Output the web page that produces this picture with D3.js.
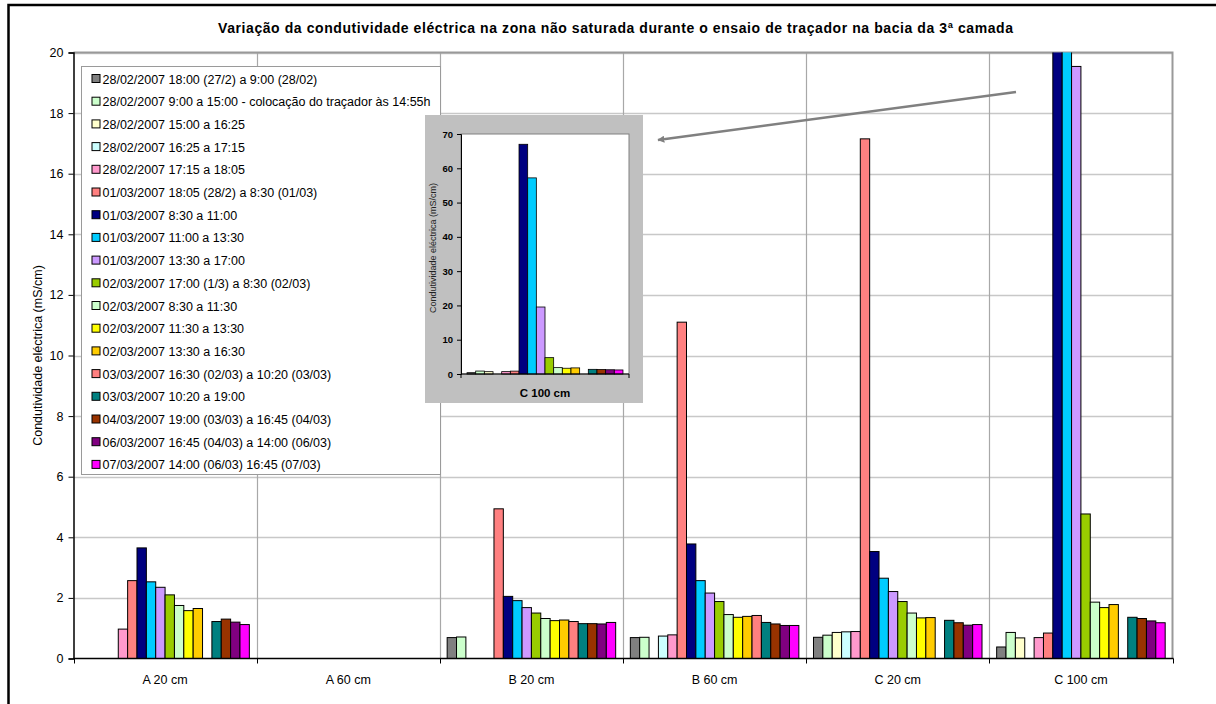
<!DOCTYPE html>
<html>
<head>
<meta charset="utf-8">
<script src="https://cdn.jsdelivr.net/npm/d3@7"></script>
<style>
  html, body { margin: 0; padding: 0; background: #fff; }
  svg { display: block; font-family: "Liberation Sans", Arial, sans-serif; }
</style>
</head>
<body>
<svg id="chart" width="1216" height="704"></svg>
<script>
// Sampling sites (depth per plot)
const categories = ["A 20 cm", "A 60 cm", "B 20 cm", "B 60 cm", "C 20 cm", "C 100 cm"];

// Sampling periods (one series each)
const seriesNames = [
  "28/02/2007 18:00 (27/2) a 9:00 (28/02)",
  "28/02/2007 9:00 a 15:00 - colocação do traçador às 14:55h",
  "28/02/2007 15:00 a 16:25",
  "28/02/2007 16:25 a 17:15",
  "28/02/2007 17:15 a 18:05",
  "01/03/2007 18:05 (28/2) a 8:30 (01/03)",
  "01/03/2007 8:30 a 11:00",
  "01/03/2007 11:00 a 13:30",
  "01/03/2007 13:30 a 17:00",
  "02/03/2007 17:00 (1/3) a 8:30 (02/03)",
  "02/03/2007 8:30 a 11:30",
  "02/03/2007 11:30 a 13:30",
  "02/03/2007 13:30 a 16:30",
  "03/03/2007 16:30 (02/03) a 10:20 (03/03)",
  "03/03/2007 10:20 a 19:00",
  "04/03/2007 19:00 (03/03) a 16:45 (04/03)",
  "06/03/2007 16:45 (04/03) a 14:00 (06/03)",
  "07/03/2007 14:00 (06/03) 16:45 (07/03)"
];

const seriesColors = [
  "#808080", "#CCFFCC", "#FFFFCC", "#CCFFFF", "#FF99CC", "#FF8080",
  "#000080", "#00CCFF", "#CC99FF", "#99CC00", "#CCFFCC", "#FFFF00",
  "#FFCC00", "#FF8080", "#008080", "#993300", "#800080", "#FF00FF"
];

// Electrical conductivity (mS/cm), one value per period; null = no sample
const valuesA20  = [null, null, null, null, 0.97, 2.57, 3.65, 2.53, 2.35, 2.10, 1.75, 1.58, 1.65, null, 1.22, 1.30, 1.20, 1.12];
const valuesA60  = [null, null, null, null, null, null, null, null, null, null, null, null, null, null, null, null, null, null];
const valuesB20  = [0.69, 0.71, null, null, null, 4.94, 2.05, 1.91, 1.68, 1.50, 1.32, 1.25, 1.27, 1.22, 1.15, 1.15, 1.14, 1.19];
const valuesB60  = [0.69, 0.70, null, 0.74, 0.78, 11.1, 3.78, 2.57, 2.16, 1.88, 1.45, 1.36, 1.39, 1.42, 1.19, 1.14, 1.09, 1.09];
const valuesC20  = [0.70, 0.77, 0.86, 0.88, 0.89, 17.15, 3.53, 2.65, 2.21, 1.88, 1.50, 1.34, 1.35, null, 1.26, 1.18, 1.10, 1.12];
const valuesC100 = [0.38, 0.86, 0.68, null, 0.69, 0.84, 67.0, 57.2, 19.54, 4.77, 1.86, 1.68, 1.78, null, 1.36, 1.32, 1.24, 1.18];

const seriesValues = [valuesA20, valuesA60, valuesB20, valuesB60, valuesC20, valuesC100];

const yTicksMain = [0, 2, 4, 6, 8, 10, 12, 14, 16, 18, 20];
const yTicksInset = [0, 10, 20, 30, 40, 50, 60, 70];

const titleText = "Variação da condutividade eléctrica na zona não saturada durante o ensaio de traçador na bacia da 3ª camada";
const yAxisTitle = "Condutividade eléctrica (mS/cm)";

const svg = d3.select("#chart");

// Outer chart frame
svg.append("rect").attr("x", 8.5).attr("y", 5).attr("width", 1230).attr("height", 720)
  .attr("fill", "#fff").attr("stroke", "#000").attr("stroke-width", 2.5);

// ---------- main plot ----------
const plot = { left: 73.5, right: 1172.5, top: 52.5, bottom: 658.5 };

const x0 = d3.scaleBand().domain(categories)
  .range([plot.left, plot.right]).paddingInner(0.08).paddingOuter(0.04);
const x1 = d3.scaleBand().domain(d3.range(seriesNames.length))
  .range([0, x0.bandwidth()]);
const y = d3.scaleLinear().domain([0, 20]).range([plot.bottom, plot.top]);

// horizontal gridlines
svg.append("g").selectAll("line").data(yTicksMain.slice(1))
  .join("line")
  .attr("x1", plot.left).attr("x2", plot.right)
  .attr("y1", d => Math.round(y(d)) + 0.5).attr("y2", d => Math.round(y(d)) + 0.5)
  .attr("stroke", "#c8c8c8").attr("stroke-width", 1.5);

// vertical separators between sites
const step = x0.step();
const boundaries = categories.map((c, i) => plot.left + step * (i + 1));
svg.append("g").selectAll("line").data(boundaries.slice(0, -1))
  .join("line")
  .attr("x1", d => Math.round(d) + 0.5).attr("x2", d => Math.round(d) + 0.5)
  .attr("y1", plot.top).attr("y2", plot.bottom)
  .attr("stroke", "#a8a8a8").attr("stroke-width", 1.2);

// plot area border (top + right)
svg.append("path")
  .attr("d", `M${plot.left},${plot.top}H${plot.right}V${plot.bottom}`)
  .attr("fill", "none").attr("stroke", "#999").attr("stroke-width", 2);

// clip for bars exceeding the axis maximum
svg.append("clipPath").attr("id", "plotClip")
  .append("rect").attr("x", plot.left).attr("y", plot.top)
  .attr("width", plot.right - plot.left).attr("height", plot.bottom - plot.top);

const barData = [];
categories.forEach((c, ci) => {
  seriesValues[ci].forEach((v, si) => {
    if (v !== null) barData.push({ cat: c, s: si, v });
  });
});

svg.append("g").attr("clip-path", "url(#plotClip)")
  .selectAll("rect").data(barData).join("rect")
  .attr("x", d => x0(d.cat) + x1(d.s))
  .attr("y", d => y(d.v))
  .attr("width", x1.bandwidth())
  .attr("height", d => y(0) - y(d.v))
  .attr("fill", d => seriesColors[d.s])
  .attr("stroke", "#000").attr("stroke-width", 1);

// y axis
const yAxis = svg.append("g").attr("transform", `translate(${plot.left},0)`)
  .call(d3.axisLeft(y).tickValues(yTicksMain).tickSize(5).tickPadding(5));
yAxis.select(".domain").attr("stroke", "#000").attr("stroke-width", 1.5);
yAxis.selectAll(".tick line").attr("stroke", "#000");
yAxis.selectAll("text").attr("font-size", 12.5).attr("fill", "#000")
  .style("font-family", "'Liberation Sans', Arial, sans-serif");

// x axis
svg.append("line").attr("x1", plot.left).attr("x2", plot.right + 1)
  .attr("y1", plot.bottom).attr("y2", plot.bottom)
  .attr("stroke", "#000").attr("stroke-width", 1.5);
svg.append("g").selectAll("line").data([plot.left, ...boundaries])
  .join("line")
  .attr("x1", d => Math.round(d) + 0.5).attr("x2", d => Math.round(d) + 0.5)
  .attr("y1", plot.bottom).attr("y2", plot.bottom + 5)
  .attr("stroke", "#000");
svg.append("g").selectAll("text").data(categories).join("text")
  .attr("x", d => plot.left + step * (categories.indexOf(d) + 0.5))
  .attr("y", 684)
  .attr("text-anchor", "middle").attr("font-size", 12.5)
  .text(d => d);

// titles
svg.append("text").attr("x", 615.5).attr("y", 33)
  .attr("text-anchor", "middle").attr("font-size", 14).attr("font-weight", "bold")
  .attr("textLength", 795).attr("lengthAdjust", "spacing")
  .text(titleText);
svg.append("text")
  .attr("transform", `translate(42,${(plot.top + plot.bottom) / 2}) rotate(-90)`)
  .attr("text-anchor", "middle").attr("font-size", 12.5)
  .text(yAxisTitle);

// ---------- legend ----------
const legend = svg.append("g");
legend.append("rect").attr("x", 81.5).attr("y", 66.5).attr("width", 359).attr("height", 408)
  .attr("fill", "#fff").attr("stroke", "#9a9a9a").attr("stroke-width", 1);
const legendRows = legend.selectAll("g.row").data(seriesNames).join("g")
  .attr("transform", (d, i) => `translate(0,${79 + i * 22.7})`);
legendRows.append("rect")
  .attr("x", 92).attr("y", -4.5).attr("width", 8).attr("height", 8)
  .attr("fill", (d, i) => seriesColors[i]).attr("stroke", "#000").attr("stroke-width", 1);
legendRows.append("text")
  .attr("x", 102.5).attr("y", 4.5).attr("font-size", 12.5)
  .text(d => d);

// ---------- inset: C 100 cm at full scale ----------
const inset = { boxX: 425, boxY: 115, boxW: 218, boxH: 288,
                left: 461, right: 629, top: 134, bottom: 374 };
svg.append("rect").attr("x", inset.boxX).attr("y", inset.boxY)
  .attr("width", inset.boxW).attr("height", inset.boxH).attr("fill", "#c0c0c0");
svg.append("rect").attr("x", inset.left).attr("y", inset.top)
  .attr("width", inset.right - inset.left).attr("height", inset.bottom - inset.top)
  .attr("fill", "#fff").attr("stroke", "#808080").attr("stroke-width", 1);

const insetCat = ["C 100 cm"];
const ix0 = d3.scaleBand().domain(insetCat).range([inset.left, inset.right])
  .paddingInner(0.07).paddingOuter(0.036);
const ix1 = d3.scaleBand().domain(d3.range(seriesNames.length)).range([0, ix0.bandwidth()]);
const iy = d3.scaleLinear().domain([0, 70]).range([inset.bottom, inset.top]);

const insetBars = valuesC100.map((v, s) => ({ s, v })).filter(d => d.v !== null);
svg.append("g").selectAll("rect").data(insetBars).join("rect")
  .attr("x", d => ix0("C 100 cm") + ix1(d.s))
  .attr("y", d => iy(d.v))
  .attr("width", ix1.bandwidth())
  .attr("height", d => iy(0) - iy(d.v))
  .attr("fill", d => seriesColors[d.s])
  .attr("stroke", "#000").attr("stroke-width", 0.8);

const iyAxis = svg.append("g").attr("transform", `translate(${inset.left},0)`)
  .call(d3.axisLeft(iy).tickValues(yTicksInset).tickSize(4).tickPadding(4));
iyAxis.select(".domain").attr("stroke", "#000");
iyAxis.selectAll("text").attr("font-size", 9.5).attr("font-weight", "bold").attr("fill", "#000")
  .style("font-family", "'Liberation Sans', Arial, sans-serif");
svg.append("line").attr("x1", inset.left).attr("x2", inset.right)
  .attr("y1", inset.bottom).attr("y2", inset.bottom).attr("stroke", "#000");
svg.append("g").selectAll("line").data([inset.left, inset.right]).join("line")
  .attr("x1", d => d).attr("x2", d => d)
  .attr("y1", inset.bottom).attr("y2", inset.bottom + 4).attr("stroke", "#000");
svg.append("text").attr("x", (inset.left + inset.right) / 2).attr("y", 397)
  .attr("text-anchor", "middle").attr("font-size", 11.5).attr("font-weight", "bold")
  .text(insetCat[0]);
svg.append("text")
  .attr("transform", `translate(436,${(inset.top + inset.bottom) / 2 - 6}) rotate(-90)`)
  .attr("text-anchor", "middle").attr("font-size", 9).attr("fill", "#222")
  .text(yAxisTitle);

// ---------- arrow pointing from the C 100 cm bars to the inset ----------
svg.append("defs").append("marker").attr("id", "arrowHead")
  .attr("viewBox", "0 0 10 10").attr("refX", 9).attr("refY", 5)
  .attr("markerWidth", 7).attr("markerHeight", 7).attr("orient", "auto")
  .attr("markerUnits", "userSpaceOnUse")
  .append("path").attr("d", "M0,0L10,5L0,10z").attr("fill", "#808080");
svg.append("line").attr("x1", 1016).attr("y1", 92).attr("x2", 658).attr("y2", 140)
  .attr("stroke", "#808080").attr("stroke-width", 2.5)
  .attr("marker-end", "url(#arrowHead)");
</script>
</body>
</html>
